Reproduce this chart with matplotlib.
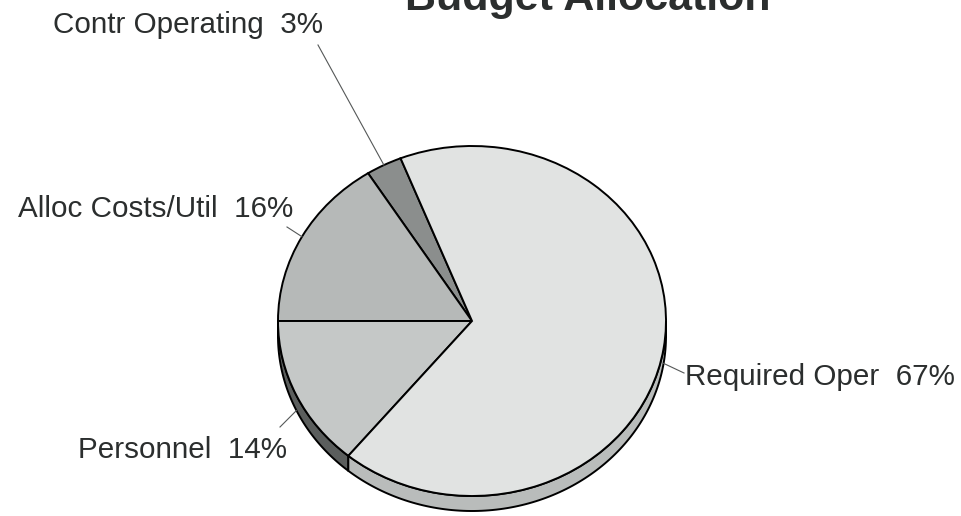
import numpy as np
import matplotlib.pyplot as plt

plt.rcParams['font.family'] = ['Liberation Sans', 'DejaVu Sans']

title = 'Budget Allocation'
categories = ['Contr Operating', 'Alloc Costs/Util', 'Personnel', 'Required Oper']
shares = [3, 16, 14, 67]

top_colors = ['#8b8e8d', '#b6b9b8', '#c5c8c7', '#e1e3e2']
side_colors = ['#5e6160', '#7e8180', '#5b5e5d', '#b9bcbb']
text_color = '#2b2e2e'

W, H = 962, 516
fig = plt.figure(figsize=(W / 100, H / 100), dpi=100)

# pie layout in pixels (origin top-left)
cx, cy = 472, 321
rx, ry = 194, 175
depth = 15
xl, yl = (-1.05, 1.05), (-1.2, 1.05)

ax = fig.add_axes([(cx + xl[0] * rx) / W, (H - cy + yl[0] * ry) / H,
                   (xl[1] - xl[0]) * rx / W, (yl[1] - yl[0]) * ry / H])
wedges, _ = ax.pie(shares, startangle=111.6, counterclock=True, colors=top_colors,
                   wedgeprops=dict(edgecolor='black', linewidth=1.4, zorder=2))
ax.set_aspect('auto')
ax.set_xlim(*xl)
ax.set_ylim(*yl)
ax.axis('off')

# extruded side of the disc, only the front half is visible
d = depth / ry
for w, sc in zip(wedges, side_colors):
    for k in (-360, 0, 360):
        lo = max(w.theta1, 180 + k)
        hi = min(w.theta2, 360 + k)
        if hi <= lo:
            continue
        th = np.radians(np.linspace(lo, hi, 120))
        xs = np.concatenate([np.cos(th), np.cos(th[::-1])])
        ys = np.concatenate([np.sin(th), np.sin(th[::-1]) - d])
        ax.fill(xs, ys, facecolor=sc, edgecolor='black', linewidth=1.4, zorder=1)

# overlay in pixel coordinates for labels and leader lines
ov = fig.add_axes([0, 0, 1, 1])
ov.set_xlim(0, W)
ov.set_ylim(H, 0)
ov.axis('off')

label_pos = [(53, 33), (18, 217), (78, 458), (685, 385)]
leader_start = [(318, 45), (287, 227), (280, 427), (684, 373)]

for name, val, w, (tx, ty), (sx, sy) in zip(categories, shares, wedges, label_pos, leader_start):
    mid = np.radians((w.theta1 + w.theta2) / 2)
    px, py = np.cos(mid), np.sin(mid)
    if py < 0:
        py -= d
    ex, ey = ov.transData.inverted().transform(ax.transData.transform((px, py)))
    ov.plot([sx, ex], [sy, ey], color='#555858', linewidth=0.8)
    ov.text(tx, ty, f'{name}  {val}%', fontsize=21.3, color=text_color,
            ha='left', va='baseline')

fig.text(405 / W, 1 - 10 / H, title, fontsize=31, fontweight='bold',
         color=text_color, ha='left', va='baseline')

fig.savefig('out.png', dpi=100, facecolor='white')
